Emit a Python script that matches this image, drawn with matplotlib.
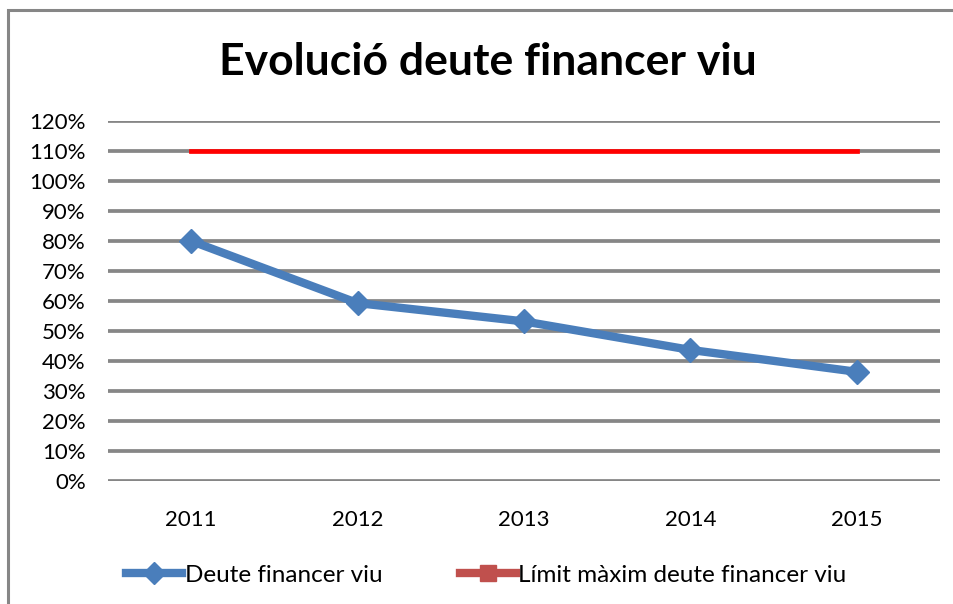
import matplotlib.pyplot as plt
from matplotlib.lines import Line2D
from matplotlib.patches import Rectangle
import numpy as np

years = ["2011", "2012", "2013", "2014", "2015"]
deute = [0.80, 0.593, 0.532, 0.437, 0.364]
limit = [1.10, 1.10, 1.10, 1.10, 1.10]
yticks = np.arange(0, 1.21, 0.1)

BLUE = "#4a7ebb"
LEGEND_RED = "#c0504d"

plt.rcParams["font.family"] = ["Lato", "DejaVu Sans"]

fig = plt.figure(figsize=(9.54, 6.04), dpi=100)
ax = fig.add_axes([108 / 954, 1 - 481 / 604, 832 / 954, 360 / 604])

x = np.arange(len(years))
for t in yticks:
    ax.axhline(t, color="#868686", lw=2.7, zorder=1)

ax.plot(x, limit, color="#ff0000", lw=3.4, zorder=2)
ax.plot(x, deute, color=BLUE, lw=6, marker="D", markersize=12,
        markerfacecolor=BLUE, markeredgecolor=BLUE, zorder=3)

ax.set_xlim(-0.5, len(years) - 0.5)
ax.set_ylim(0, 1.2)
ax.set_yticks(yticks)
ax.set_yticklabels([f"{int(round(t * 100))}%" for t in yticks], fontsize=16)
ax.set_xticks(x)
ax.set_xticklabels(years, fontsize=16)
ax.tick_params(length=0, pad=16)
ax.tick_params(axis="x", pad=21)
for s in ax.spines.values():
    s.set_visible(False)

fig.text(0.511, 1 - 62 / 604, "Evolució deute financer viu", ha="center",
         va="center", fontsize=32, fontweight="bold")

handles = [
    Line2D([], [], color=BLUE, lw=6, marker="D", markersize=11),
    Line2D([], [], color=LEGEND_RED, lw=6, marker="s", markersize=11),
]
fig.legend(handles, ["Deute financer viu", "Límit màxim deute financer viu"],
           loc="center", bbox_to_anchor=(0.51, 1 - 575 / 604), ncol=2,
           frameon=False, fontsize=17.5, handlelength=2.3, handletextpad=0.1,
           columnspacing=3.2)

# outer chart border (only top and left visible in the crop)
fig.patches.append(Rectangle((8 / 954, -0.1), 1.2, 1 - 10 / 604 + 0.1,
                             transform=fig.transFigure, fill=False,
                             edgecolor="#868686", lw=2.2))

fig.savefig("out.png", dpi=100)
